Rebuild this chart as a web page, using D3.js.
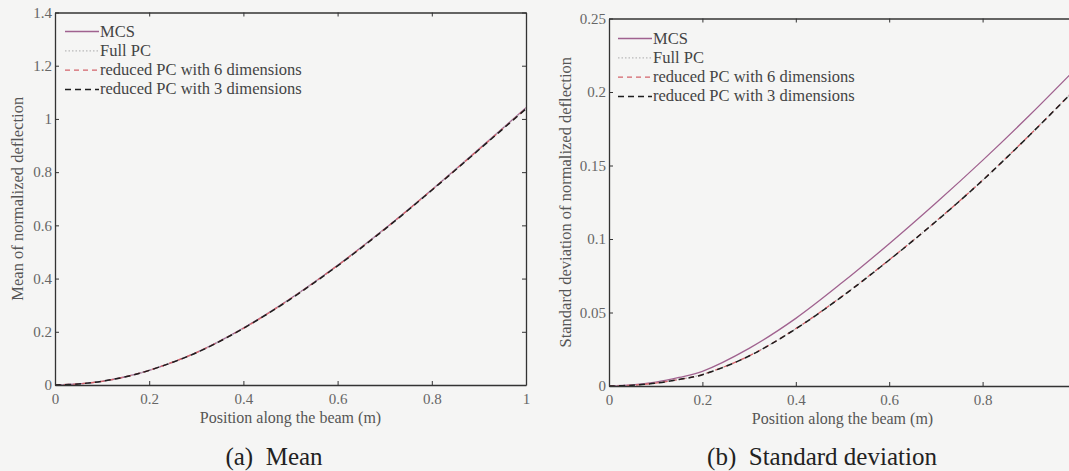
<!DOCTYPE html>
<html>
<head>
<meta charset="utf-8">
<script src="https://cdn.jsdelivr.net/npm/d3@7"></script>
<style>
  html, body { margin: 0; padding: 0; background: #f5f5f4; }
  svg { display: block; }
  text { font-family: "Liberation Serif", "Times New Roman", serif; }
</style>
</head>
<body>
<svg id="fig" width="1069" height="471"></svg>
<script>
// Position along the beam (m)
const positions = [0, 0.05, 0.1, 0.15, 0.2, 0.3, 0.4, 0.5, 0.6, 0.7, 0.8, 0.9, 1.0];

// Mean of normalized deflection
const meanMCS     = [0, 0.004, 0.014, 0.031, 0.055, 0.122, 0.214, 0.325, 0.450, 0.587, 0.734, 0.887, 1.042];
const meanFullPC  = [0, 0.004, 0.014, 0.031, 0.055, 0.122, 0.213, 0.324, 0.449, 0.586, 0.733, 0.886, 1.040];
const meanPC6     = [0, 0.004, 0.014, 0.031, 0.055, 0.122, 0.213, 0.324, 0.449, 0.586, 0.733, 0.885, 1.039];
const meanPC3     = [0, 0.004, 0.014, 0.031, 0.055, 0.121, 0.213, 0.323, 0.448, 0.585, 0.732, 0.884, 1.038];

// Standard deviation of normalized deflection
const stdMCS      = [0, 0.0007, 0.0026, 0.0058, 0.0100, 0.0256, 0.0460, 0.0705, 0.0968, 0.1245, 0.1535, 0.1840, 0.2160];
const stdFullPC   = [0, 0.0005, 0.0020, 0.0045, 0.0078, 0.0205, 0.0390, 0.0612, 0.0858, 0.1120, 0.1400, 0.1705, 0.2025];
const stdPC6      = [0, 0.0005, 0.0020, 0.0045, 0.0078, 0.0205, 0.0390, 0.0612, 0.0858, 0.1120, 0.1400, 0.1705, 0.2025];
const stdPC3      = [0, 0.0005, 0.0019, 0.0044, 0.0077, 0.0204, 0.0389, 0.0611, 0.0857, 0.1119, 0.1399, 0.1704, 0.2024];

const seriesNames = ["MCS", "Full PC", "reduced PC with 6 dimensions", "reduced PC with 3 dimensions"];

const xTicks = [0, 0.2, 0.4, 0.6, 0.8, 1];
const meanTicks = [0, 0.2, 0.4, 0.6, 0.8, 1, 1.2, 1.4];
const stdTicks = [0, 0.05, 0.1, 0.15, 0.2, 0.25];

const W = 1069;

const styles = [
  { color: "#a0628f", width: 1.3, dash: null },
  { color: "#b9b9b9", width: 1.2, dash: "1.5,2" },
  { color: "#d4646b", width: 1.3, dash: "5,4" },
  { color: "#1e1e1e", width: 1.5, dash: "6,4" }
];

const svg = d3.select("#fig");

function panel(cfg) {
  const { left, right, top, bottom, yMax, yTicks, series, yLabel, caption,
          legendX, legendY, yLabelX, captionX } = cfg;
  const x = d3.scaleLinear().domain([0, 1]).range([left, right]);
  const y = d3.scaleLinear().domain([0, yMax]).range([bottom, top]);
  const g = svg.append("g");

  const fmt = d => d === 0 ? "0" : String(d);
  // only ticks that fall inside the figure width
  const xt = xTicks.filter(d => x(d) <= W - 4);

  // curves
  const line = d3.line()
    .x((d, i) => x(positions[i]))
    .y(d => y(d))
    .curve(d3.curveCatmullRom.alpha(0.5));
  const clipId = "clip" + Math.round(left);
  g.append("clipPath").attr("id", clipId)
    .append("rect").attr("x", left).attr("y", top).attr("width", right - left).attr("height", bottom - top);
  series.forEach((vals, k) => {
    const s = styles[k];
    g.append("path")
      .datum(vals)
      .attr("clip-path", `url(#${clipId})`)
      .attr("fill", "none")
      .attr("stroke", s.color)
      .attr("stroke-width", s.width)
      .attr("stroke-dasharray", s.dash)
      .attr("d", line);
  });

  // axes: ticks inward, box on all four sides
  const tickLen = 4;
  const axB = g.append("g").attr("transform", `translate(0,${bottom})`)
    .call(d3.axisBottom(x).tickValues(xt).tickFormat(fmt).tickSizeInner(-tickLen).tickSizeOuter(0).tickPadding(8));
  const axT = g.append("g").attr("transform", `translate(0,${top})`)
    .call(d3.axisTop(x).tickValues(xt).tickFormat("").tickSizeInner(-tickLen).tickSizeOuter(0));
  const axL = g.append("g").attr("transform", `translate(${left},0)`)
    .call(d3.axisLeft(y).tickValues(yTicks).tickFormat(fmt).tickSizeInner(-tickLen).tickSizeOuter(0).tickPadding(3));
  const axR = g.append("g").attr("transform", `translate(${right},0)`)
    .call(d3.axisRight(y).tickValues(yTicks).tickFormat("").tickSizeInner(-tickLen).tickSizeOuter(0));
  [axB, axT, axL, axR].forEach(a => {
    a.select(".domain").attr("stroke", "#333").attr("stroke-width", 1.3);
    a.selectAll(".tick line").attr("stroke", "#333").attr("stroke-width", 1);
    a.selectAll(".tick text").attr("fill", "#666").attr("font-size", 15)
      .attr("font-family", "Liberation Serif, serif");
  });

  // legend
  seriesNames.forEach((name, k) => {
    const s = styles[k];
    const ly = legendY + k * 19.3;
    g.append("line")
      .attr("x1", legendX).attr("x2", legendX + 34)
      .attr("y1", ly).attr("y2", ly)
      .attr("stroke", s.color).attr("stroke-width", s.width)
      .attr("stroke-dasharray", s.dash);
    g.append("text")
      .attr("x", legendX + 35).attr("y", ly + 5)
      .attr("font-size", 16.5).attr("fill", "#444")
      .text(name);
  });

  // axis labels
  g.append("text")
    .attr("x", (left + right) / 2).attr("y", bottom + 38)
    .attr("text-anchor", "middle").attr("font-size", 16).attr("fill", "#555")
    .text("Position along the beam (m)");
  g.append("text")
    .attr("transform", `translate(${yLabelX},${(top + bottom) / 2}) rotate(-90)`)
    .attr("text-anchor", "middle").attr("font-size", 16.5).attr("fill", "#555")
    .text(yLabel);

  // caption
  g.append("text")
    .attr("x", captionX).attr("y", 465)
    .attr("text-anchor", "middle").attr("font-size", 25).attr("fill", "#222")
    .attr("xml:space", "preserve")
    .text(caption);
}

panel({
  left: 55, right: 526, top: 12.5, bottom: 385, yMax: 1.4, yTicks: meanTicks,
  series: [meanMCS, meanFullPC, meanPC6, meanPC3],
  yLabel: "Mean of normalized deflection", caption: "(a)  Mean",
  legendX: 65, legendY: 31.5, yLabelX: 23, captionX: 274
});

panel({
  left: 609, right: 1076, top: 18.5, bottom: 386, yMax: 0.25, yTicks: stdTicks,
  series: [stdMCS, stdFullPC, stdPC6, stdPC3],
  yLabel: "Standard deviation of normalized deflection", caption: "(b)  Standard deviation",
  legendX: 618, legendY: 38.5, yLabelX: 571, captionX: 822
});
</script>
</body>
</html>
